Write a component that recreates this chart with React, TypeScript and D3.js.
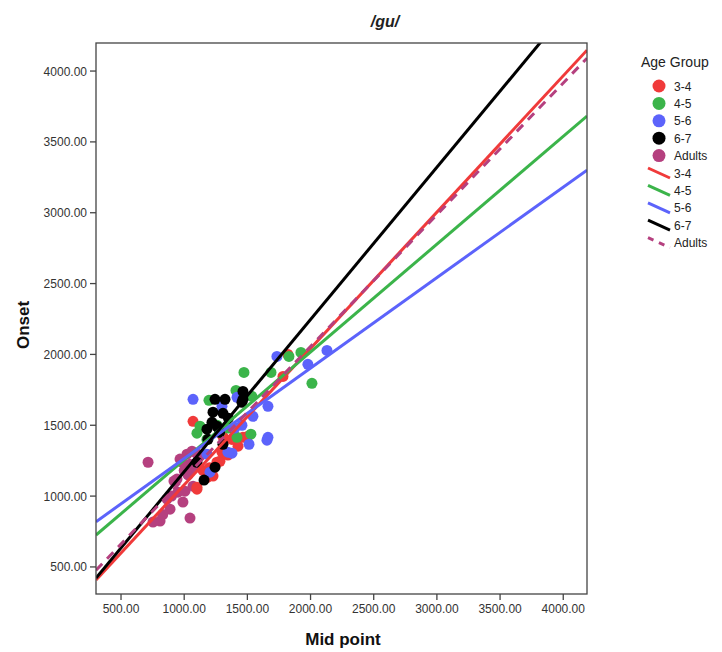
import React from "react";
import * as d3 from "d3";

// scatter points per age group: [mid point, onset]
const adults = [
  [714, 1239], [990, 958], [1046, 845], [888, 908], [809, 824], [753, 817], [864, 979],
  [919, 1106], [951, 1028], [1006, 1035], [1070, 1070], [967, 1261], [1022, 1296],
  [1046, 1225], [1000, 1180], [1062, 1317], [1125, 1282], [943, 1120], [1100, 1300],
  [980, 1240], [1030, 1150], [1080, 1200], [830, 870], [900, 1000]
];
const group34 = [
  [1070, 1528], [1782, 1845], [1821, 2000], [1426, 1352], [1465, 1415], [1500, 1420],
  [1228, 1141], [1259, 1239], [1283, 1246], [1299, 1310], [1101, 1063], [1101, 1049],
  [1150, 1180], [1180, 1130], [1346, 1290], [1200, 1200], [1307, 1420], [1378, 1400]
];
const group45 = [
  [1473, 1873], [1924, 2014], [1829, 1986], [2011, 1796], [1687, 1873], [1410, 1746],
  [1196, 1676], [1125, 1493], [1101, 1444], [1528, 1437], [1418, 1415], [1283, 1451],
  [1536, 1704], [1260, 1500], [1350, 1480], [1180, 1400]
];
const group56 = [
  [1070, 1683], [1734, 1986], [2130, 2028], [1979, 1930], [1663, 1634], [1663, 1415],
  [1655, 1395], [1513, 1366], [1378, 1303], [1544, 1563], [1418, 1697], [1299, 1634],
  [1204, 1169], [1180, 1296], [1346, 1310], [1457, 1500], [1400, 1480]
];
const group67 = [
  [1244, 1683], [1323, 1683], [1465, 1739], [1465, 1683], [1457, 1662], [1228, 1592],
  [1307, 1584], [1220, 1521], [1259, 1493], [1180, 1472], [1188, 1401], [1307, 1366],
  [1244, 1204], [1157, 1113], [1101, 1239], [1350, 1550], [1280, 1450]
];

const groupNames = ["3-4", "4-5", "5-6", "6-7", "Adults"];
const groupColors = ["#f03a3a", "#3bb44a", "#5c63fb", "#000000", "#b5407f"];
const groupPoints = [group34, group45, group56, group67, adults];

// fit lines: slope, intercept
const fitSlopes = [0.9624, 0.761, 0.6387, 1.0746, 0.93];
const fitIntercepts = [117, 495, 626, 97.5, 196];

const xTicks = [500, 1000, 1500, 2000, 2500, 3000, 3500, 4000];
const yTicks = [500, 1000, 1500, 2000, 2500, 3000, 3500, 4000];

const W = 722, H = 652;
const M = { left: 96, top: 43, right: 587, bottom: 594 };
const X_DOMAIN = [302, 4188];
const Y_DOMAIN = [309, 4198];
const font = "'Liberation Sans', Arial, sans-serif";

export default function App() {
  const x = d3.scaleLinear().domain(X_DOMAIN).range([M.left, M.right]);
  const y = d3.scaleLinear().domain(Y_DOMAIN).range([M.bottom, M.top]);
  const line = d3.line<number[]>().x(d => x(d[0])).y(d => y(d[1]));

  // draw order: adults under the children
  const drawOrder = [4, 0, 1, 2, 3];

  return (
    <div style={{ position: "absolute", left: 0, top: 0 }}>
      <svg width={W} height={H} style={{ display: "block", background: "#fff" }}>
        <defs>
          <clipPath id="plot">
            <rect x={M.left} y={M.top} width={M.right - M.left} height={M.bottom - M.top} />
          </clipPath>
        </defs>

        <text x={385} y={27} textAnchor="middle" fontFamily={font} fontSize={16}
          fontWeight="bold" fontStyle="italic" fill="#222">/gu/</text>

        {/* points */}
        <g>
          {drawOrder.map(gi =>
            groupPoints[gi].map((p, i) => (
              <circle key={gi + "-" + i} cx={x(p[0])} cy={y(p[1])} r={5.5} fill={groupColors[gi]} />
            ))
          )}
        </g>

        {/* fit lines */}
        <g clipPath="url(#plot)">
          {groupNames.map((g, i) => {
            const pts = X_DOMAIN.map(v => [v, fitSlopes[i] * v + fitIntercepts[i]]);
            return (
              <path key={g} d={line(pts) || ""} stroke={groupColors[i]} strokeWidth={3}
                fill="none" strokeDasharray={g === "Adults" ? "9,7" : undefined} />
            );
          })}
        </g>

        {/* frame */}
        <rect x={M.left} y={M.top} width={M.right - M.left} height={M.bottom - M.top}
          fill="none" stroke="#444" strokeWidth={1.3} />

        {/* axes */}
        <g fontFamily={font} fontSize={12} fill="#333">
          {xTicks.map(t => (
            <g key={t}>
              <line x1={x(t)} x2={x(t)} y1={M.bottom} y2={M.bottom + 6} stroke="#444" strokeWidth={1.3} />
              <text x={x(t)} y={613} textAnchor="middle">{t.toFixed(2)}</text>
            </g>
          ))}
          {yTicks.map(t => (
            <g key={t}>
              <line x1={M.left - 6} x2={M.left} y1={y(t)} y2={y(t)} stroke="#444" strokeWidth={1.3} />
              <text x={M.left - 9} y={y(t) + 4.5} textAnchor="end">{t.toFixed(2)}</text>
            </g>
          ))}
        </g>

        <text x={343} y={645} textAnchor="middle" fontFamily={font} fontSize={17}
          fontWeight="bold" fill="#111">Mid point</text>
        <text transform="translate(29,325) rotate(-90)" textAnchor="middle" fontFamily={font}
          fontSize={17} fontWeight="bold" fill="#111">Onset</text>

        {/* legend */}
        <g fontFamily={font} fill="#222">
          <text x={641} y={67} fontSize={14}>Age Group</text>
          {groupNames.map((g, i) => {
            const cy = 86 + i * 17.4;
            return (
              <g key={"p" + g}>
                <circle cx={659} cy={cy} r={6.5} fill={groupColors[i]} />
                <text x={674} y={cy + 4.5} fontSize={12}>{g}</text>
              </g>
            );
          })}
          {groupNames.map((g, i) => {
            const cy = 86 + (i + 5) * 17.4;
            return (
              <g key={"l" + g}>
                <line x1={648} y1={cy - 5} x2={670} y2={cy + 5} stroke={groupColors[i]} strokeWidth={3}
                  strokeDasharray={g === "Adults" ? "6,6" : undefined} />
                <text x={674} y={cy + 4.5} fontSize={12}>{g}</text>
              </g>
            );
          })}
        </g>
      </svg>
    </div>
  );
}
